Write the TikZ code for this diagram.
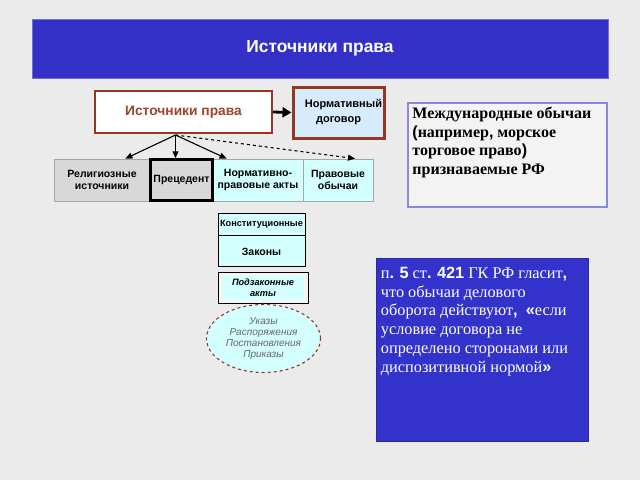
\documentclass[tikz,border=0pt]{standalone}
\usepackage{fontspec}
\setmainfont{Liberation Sans}
\newfontfamily\serifru{Liberation Serif}
\newfontfamily\sansb{Liberation Sans}
\usetikzlibrary{arrows.meta,shapes.geometric,calc}
\definecolor{bgc}{RGB}{235,235,235}
\definecolor{titleblue}{RGB}{51,48,200}
\definecolor{brownb}{RGB}{150,55,35}
\definecolor{browntext}{RGB}{155,70,45}
\definecolor{ltblue}{RGB}{214,236,250}
\definecolor{grayfill}{RGB}{216,216,216}
\definecolor{cyanfill}{RGB}{212,255,255}
\definecolor{framepurple}{RGB}{136,136,221}
\definecolor{boxblue}{RGB}{51,51,204}
\tikzset{
  rowbox/.style={draw=gray!70, line width=0.8pt, minimum height=42pt, align=center, font=\bfseries\fontsize{10.5}{12.5}\selectfont, inner sep=1pt},
  thinarrow/.style={-{Triangle[length=7pt,width=6pt]}, line width=1.1pt},
  blackbox/.style={draw=black, line width=0.9pt, fill=cyanfill, align=center, inner sep=0pt}
}
\begin{document}
\begin{tikzpicture}[x=1pt,y=-1pt]
\fill[bgc] (0,0) rectangle (640,480);
\useasboundingbox (0,0) rectangle (640,480);
% title
\node[fill=titleblue, draw=titleblue!70!white, line width=0.8pt, minimum width=576pt, minimum height=59pt, text=white, font=\bfseries\fontsize{17.4}{21}\selectfont] (title) at (320,48.5) {Источники права};
% main box
\node[draw=brownb, fill=white, line width=2pt, minimum width=177pt, minimum height=42pt, text=browntext, font=\bfseries\fontsize{13.8}{16}\selectfont] (main) at (183.5,112) {Источники права};
\node[draw=brownb, fill=ltblue, line width=3pt, minimum width=91pt, minimum height=51pt, align=center, inner sep=0pt, font=\bfseries\fontsize{11}{15}\selectfont] (nd) at (338.5,112.5) {\hspace*{10pt}Нормативный\\договор};
\draw[line width=2.8pt, -{Triangle[length=9pt,width=10pt]}] (main.east) -- (nd.west);
% row
\node[rowbox, fill=grayfill, minimum width=96pt] (rel) at (102,180) {Религиозные\\источники};
\node[rowbox, fill=cyanfill, minimum width=90pt] (npa) at (258,180) {Нормативно-\\правовые акты};
\node[rowbox, fill=cyanfill, minimum width=70pt] (obych) at (338,180) {Правовые\\обычаи};
\node[rowbox, draw=black, line width=2.5pt, fill=grayfill, minimum width=62pt, minimum height=41pt] (prec) at (181.5,180) {Прецедент};
\coordinate (src) at ($(main.south)+(-8,1)$);
\draw[thinarrow] (src) -- ($(rel.north east)+(-25,0)$);
\draw[thinarrow] (src) -- (src |- prec.north);
\draw[thinarrow] (src) -- ($(npa.north west)+(14,0)$);
\draw[thinarrow, dashed] (src) -- ($(obych.north)+(17,0)$);
% constitution / laws
\node[blackbox, minimum width=87pt, minimum height=22pt, font=\bfseries\fontsize{9.2}{10}\selectfont] (konst) at (261.5,224) {Конституционные};
\node[blackbox, minimum width=87pt, minimum height=31pt, font=\bfseries\fontsize{10.5}{12}\selectfont, anchor=north] (zak) at (konst.south) {Законы};
% podzakonnye
\node[blackbox, fill=white!92!gray, minimum width=90pt, minimum height=31pt, font=\bfseries\itshape\fontsize{9.2}{10.5}\selectfont,
  path picture={\fill[cyanfill] ($(path picture bounding box.north west)+(4,4)$) rectangle ($(path picture bounding box.south east)+(-4,-3)$);}] (podz) at (263,287.5) {Подзаконные\\акты};
% ellipse
\node[ellipse, draw=brownb, dashed, line width=1.1pt, fill=cyanfill, minimum width=114pt, minimum height=68pt, align=center, text=black!60, font=\itshape\fontsize{10}{11.2}\selectfont, inner sep=0pt] (ell) at (263.5,338.5) {Указы\\Распоряжения\\Постановления\\Приказы};
\draw[line width=2.5pt, brownb!60!black] (podz.south) -- (ell.north);
% right box 1
\node[draw=framepurple, line width=1.5pt, fill=white!40!bgc, minimum width=199pt, minimum height=104pt] (rb1) at (507.5,155) {};
\node[anchor=north west, align=left, inner sep=0pt, font=\serifru\bfseries\fontsize{16}{18.5}\selectfont] (rb1t) at ($(rb1.north west)+(5,5)$)
  {Международные обычаи\\{\sansb\bfseries(}например{\sansb\bfseries,} морское\\торговое право{\sansb\bfseries)}\\признаваемые РФ};
% right box 2
\node[draw=boxblue!80!black, line width=0.6pt, fill=boxblue, minimum width=212pt, minimum height=183pt] (rb2) at (482,349.5) {};
\node[anchor=north west, align=left, inner sep=0pt, text=white, font=\serifru\fontsize{16.3}{18.8}\selectfont] (rb2t) at ($(rb2.north west)+(5,9)$)
  {п{\sansb\bfseries.} {\sansb\bfseries 5} ст{\sansb\bfseries.} {\sansb\bfseries 421} ГК РФ гласит{\sansb\bfseries,}\\что обычаи делового\\оборота действуют{\sansb\bfseries,}\ \ {\sansb\bfseries«}если\\условие договора не\\определено сторонами или\\диспозитивной нормой{\sansb\bfseries»}};
\end{tikzpicture}
\end{document}
